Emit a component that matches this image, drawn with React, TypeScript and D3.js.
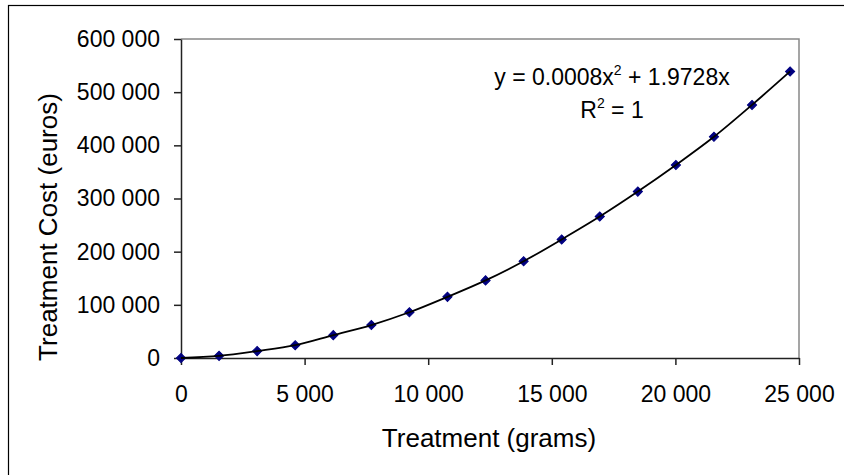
import * as d3 from "d3";
import { useRef, useEffect } from "react";

// treatment amount (grams) and cost (euros)
const treatment = [
  0, 1540, 3080, 4620, 6160, 7700, 9240, 10780, 12320, 13860, 15400, 16940,
  18480, 20020, 21560, 23100, 24640,
];
const cost = [
  0, 4000, 13000, 24000, 43000, 62000, 86000, 115000, 146000, 182000, 223000,
  266000, 313000, 363000, 416000, 476000, 539000,
];
const xTicks = [0, 5000, 10000, 15000, 20000, 25000];
const yTicks = [0, 100000, 200000, 300000, 400000, 500000, 600000];

const App = () => {
  const container = useRef<SVGSVGElement>(null);

  useEffect(() => {
    const node = container.current;
    if (!node) return;
    createChart(node);
  });

  const createChart = (node: SVGSVGElement) => {
    const width = 844;
    const height = 475;
    const font = "'Liberation Sans', Arial, sans-serif";

    const margins = { t: 39, b: 117, l: 181, r: 45 };
    const chartdims = {
      width: width - margins.l - margins.r,
      height: height - margins.t - margins.b,
    };

    const svg = d3.select(node).attr("width", width).attr("height", height);
    svg.selectAll("*").remove();

    svg
      .append("rect")
      .attr("width", width)
      .attr("height", height)
      .attr("fill", "#fff");

    // chart frame (cut off on the right and bottom)
    svg
      .append("rect")
      .attr("x", 8.5)
      .attr("y", 5.5)
      .attr("width", 900)
      .attr("height", 600)
      .attr("fill", "none")
      .attr("stroke", "#000")
      .attr("stroke-width", 1.2);

    const xScale = d3.scaleLinear().domain([0, 25000]).range([0, chartdims.width]);
    const yScale = d3.scaleLinear().domain([0, 600000]).range([chartdims.height, 0]);

    const fmt = (v: number) => d3.format(",")(v).replace(/,/g, " ");

    const plotg = svg
      .append("g")
      .attr("transform", `translate(${margins.l},${margins.t})`);

    // top & right border
    plotg
      .append("path")
      .attr("d", `M0,0H${chartdims.width}V${chartdims.height}`)
      .attr("fill", "none")
      .attr("stroke", "#888")
      .attr("stroke-width", 1.5);

    const xaxisg = plotg
      .append("g")
      .attr("transform", `translate(0,${chartdims.height})`)
      .call(
        d3
          .axisBottom(xScale)
          .tickValues(xTicks)
          .tickFormat((d) => fmt(d as number))
          .tickSize(7)
          .tickSizeOuter(0)
          .tickPadding(21)
      );

    const yaxisg = plotg.append("g").call(
      d3
        .axisLeft(yScale)
        .tickValues(yTicks)
        .tickFormat((d) => fmt(d as number))
        .tickSize(7)
        .tickSizeOuter(0)
        .tickPadding(14)
    );

    [xaxisg, yaxisg].forEach((g) => {
      g.selectAll("path, line").attr("stroke", "#222").attr("stroke-width", 1.5);
      g.selectAll("text")
        .attr("font-family", font)
        .attr("font-size", 23)
        .attr("fill", "#000");
    });

    const points = treatment.map((x, i) => ({ x, y: cost[i] }));

    // markers
    plotg
      .selectAll(".pt")
      .data(points)
      .join("path")
      .attr("class", "pt")
      .attr("d", d3.symbol(d3.symbolSquare, 42)())
      .attr(
        "transform",
        (d) => `translate(${xScale(d.x)},${yScale(d.y)}) rotate(45)`
      )
      .attr("fill", "#000080")
      .attr("stroke", "#000080")
      .attr("stroke-width", 1);

    // trendline
    const lineGen = d3
      .line<{ x: number; y: number }>()
      .x((d) => xScale(d.x))
      .y((d) => yScale(d.y))
      .curve(d3.curveMonotoneX);
    plotg
      .append("path")
      .attr("d", lineGen(points))
      .attr("fill", "none")
      .attr("stroke", "#000")
      .attr("stroke-width", 1.8);

    // equation
    const eq = svg
      .append("text")
      .attr("x", 612)
      .attr("y", 85)
      .attr("text-anchor", "middle")
      .attr("font-family", font)
      .attr("font-size", 23);
    eq.append("tspan").text("y = 0.0008x");
    eq.append("tspan").attr("dy", -10).attr("font-size", 14).text("2");
    eq.append("tspan").attr("dy", 10).text(" + 1.9728x");

    const r2 = svg
      .append("text")
      .attr("x", 612)
      .attr("y", 118)
      .attr("text-anchor", "middle")
      .attr("font-family", font)
      .attr("font-size", 23);
    r2.append("tspan").text("R");
    r2.append("tspan").attr("dy", -10).attr("font-size", 14).text("2");
    r2.append("tspan").attr("dy", 10).text(" = 1");

    // axis titles
    svg
      .append("text")
      .attr("x", 489)
      .attr("y", 447)
      .attr("text-anchor", "middle")
      .attr("font-family", font)
      .attr("font-size", 26)
      .text("Treatment (grams)");

    svg
      .append("text")
      .attr("transform", "translate(57,227) rotate(-90)")
      .attr("text-anchor", "middle")
      .attr("font-family", font)
      .attr("font-size", 26)
      .text("Treatment Cost (euros)");
  };

  return (
    <svg
      ref={container}
      style={{ position: "absolute", left: 0, top: 0, display: "block" }}
    ></svg>
  );
};

export default App;
